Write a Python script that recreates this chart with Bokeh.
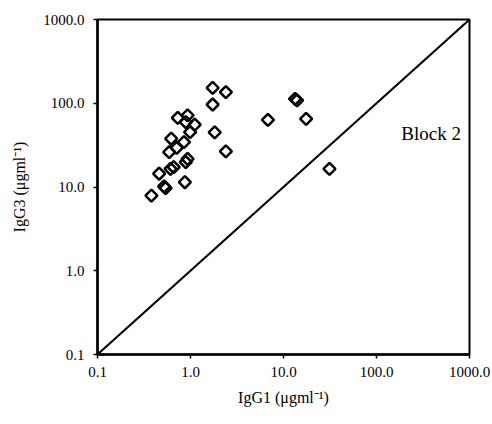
import math
from bokeh.plotting import figure
from bokeh.models import FixedTicker, CustomJSTickFormatter, Range1d
from bokeh.core.properties import value
from bokeh.embed import file_html
from bokeh.resources import INLINE

# IgG1 (x) and IgG3 (y) values, ug/ml
igg1 = [0.38, 0.54, 0.52, 0.46, 0.61, 0.66, 0.87, 0.93, 0.89, 0.59, 0.71,
        0.62, 0.85, 0.99, 1.11, 0.73, 0.93, 0.89, 1.73, 2.40, 1.73, 1.82,
        2.40, 6.8, 13.3, 14.0, 17.5, 31.2]
igg3 = [7.9, 9.7, 10.2, 14.4, 16.5, 17.3, 11.4, 21.7, 19.8, 26.1, 29.4,
        37.7, 34.3, 45.1, 55.7, 67.0, 71.5, 59.4, 153.0, 136.0, 96.6, 45.0,
        26.7, 63.4, 113.0, 108.0, 65.2, 16.5]

axis_min, axis_max = 0.1, 1000.0
ticks = [0.1, 1.0, 10.0, 100.0, 1000.0]
label_text = "Block 2"
label_x, label_y = 185.0, 43.5

serif = "Liberation Serif"

p = figure(width=492, height=424, x_axis_type="log", y_axis_type="log",
           x_range=Range1d(axis_min, axis_max), y_range=Range1d(axis_min, axis_max),
           output_backend="svg", toolbar_location=None,
           min_border_left=97, min_border_right=23, min_border_top=19,
           min_border_bottom=70)

p.background_fill_color = "white"
p.border_fill_color = "white"
p.outline_line_color = "black"
p.outline_line_width = 2
p.xgrid.visible = False
p.ygrid.visible = False

# identity line
p.line([axis_min, axis_max], [axis_min, axis_max], line_color="black", line_width=2)

p.scatter(igg1, igg3, marker="square", size=8.5, angle=math.pi / 4,
          fill_alpha=0, line_color="black", line_width=2.5)

p.text(x=[label_x], y=[label_y], text=[label_text], text_font=value(serif),
       text_font_size="19px", text_baseline="middle", text_align="left",
       text_color="black")

fmt = CustomJSTickFormatter(code="return tick.toFixed(1);")
for ax, lab in ((p.xaxis[0], "IgG1 (\u03bcgml\u207b\u00b9)"), (p.yaxis[0], "IgG3 (\u03bcgml\u207b\u00b9)")):
    ax.ticker = FixedTicker(ticks=ticks, minor_ticks=[])
    ax.formatter = fmt
    ax.axis_label = lab
    ax.axis_label_text_font = serif
    ax.axis_label_text_font_style = "normal"
    ax.axis_label_text_font_size = "16px"
    ax.axis_label_text_color = "black"
    ax.major_label_text_font = serif
    ax.major_label_text_font_size = "15px"
    ax.major_label_text_color = "black"
    ax.axis_line_width = 2.5
    ax.axis_line_color = "black"
    ax.major_tick_in = 0
    ax.major_tick_out = 4
    ax.major_tick_line_width = 1.5
    ax.major_tick_line_color = "black"
    ax.minor_tick_line_color = None

p.xaxis.major_label_standoff = 8
p.yaxis.major_label_standoff = 9
p.xaxis.axis_label_standoff = 9
p.yaxis.axis_label_standoff = 12

open("out.html", "w").write(file_html(p, INLINE))
